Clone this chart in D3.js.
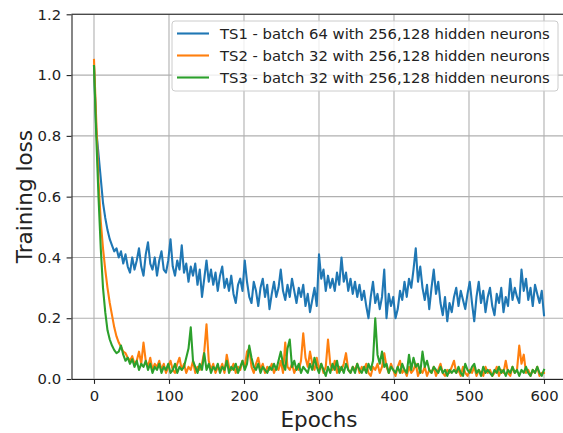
<!DOCTYPE html>
<html>
<head>
<meta charset="utf-8">
<script src="https://cdn.jsdelivr.net/npm/d3@7"></script>
<style>
  body { margin: 0; background: #fff; }
  svg { display: block; font-family: "DejaVu Sans", sans-serif; }
</style>
</head>
<body>
<div id="chart"></div>
<script>
// losses are read every 3 epochs, 0..600
const epochStep = 3;

const ts1 = [
  1.03, 0.82, 0.74, 0.66, 0.58, 0.53, 0.49, 0.46, 0.44, 0.42,
  0.43, 0.40, 0.42, 0.38, 0.41, 0.37, 0.35, 0.40, 0.36, 0.39,
  0.43, 0.37, 0.34, 0.41, 0.45, 0.38, 0.36, 0.40, 0.34, 0.39,
  0.42, 0.36, 0.35, 0.39, 0.46, 0.37, 0.34, 0.39, 0.36, 0.44,
  0.35, 0.38, 0.32, 0.37, 0.34, 0.38, 0.31, 0.36, 0.27, 0.33,
  0.39, 0.32, 0.36, 0.31, 0.35, 0.29, 0.34, 0.37, 0.30, 0.33,
  0.29, 0.34, 0.28, 0.25, 0.31, 0.33, 0.29, 0.39, 0.32, 0.27,
  0.25, 0.32, 0.29, 0.24, 0.30, 0.33, 0.27, 0.31, 0.23, 0.28,
  0.32, 0.27, 0.30, 0.36, 0.29, 0.26, 0.31, 0.27, 0.33, 0.29,
  0.25, 0.30, 0.27, 0.31, 0.24, 0.28, 0.22, 0.26, 0.30, 0.24,
  0.41, 0.33, 0.36, 0.29, 0.34, 0.30, 0.33, 0.29, 0.35, 0.31,
  0.40, 0.32, 0.35, 0.29, 0.33, 0.28, 0.32, 0.27, 0.31, 0.26,
  0.29, 0.24, 0.20, 0.27, 0.32, 0.25, 0.28, 0.23, 0.27, 0.36,
  0.20, 0.28, 0.24, 0.27, 0.20, 0.23, 0.29, 0.26, 0.32, 0.27,
  0.33, 0.30, 0.36, 0.43, 0.32, 0.37, 0.30, 0.26, 0.31, 0.23,
  0.30, 0.36, 0.28, 0.32, 0.25, 0.21, 0.27, 0.19, 0.25, 0.22,
  0.27, 0.30, 0.24, 0.29, 0.26, 0.23, 0.28, 0.32, 0.25, 0.19,
  0.27, 0.32, 0.25, 0.29, 0.22, 0.27, 0.30, 0.24, 0.21, 0.28,
  0.25, 0.30, 0.22, 0.27, 0.24, 0.33, 0.26, 0.30, 0.27, 0.25,
  0.36, 0.29, 0.33, 0.26, 0.30, 0.24, 0.31, 0.28, 0.25, 0.29,
  0.21
];

const ts2 = [
  1.05, 0.85, 0.65, 0.52, 0.43, 0.36, 0.30, 0.25, 0.21, 0.17,
  0.14, 0.12, 0.105, 0.09, 0.085, 0.07, 0.06, 0.075, 0.05, 0.06,
  0.09, 0.05, 0.12, 0.06, 0.04, 0.07, 0.03, 0.05, 0.04, 0.06,
  0.03, 0.05, 0.02, 0.04, 0.06, 0.03, 0.02, 0.05, 0.07, 0.03,
  0.05, 0.02, 0.04, 0.03, 0.06, 0.02, 0.04, 0.03, 0.05, 0.09,
  0.18, 0.06, 0.03, 0.05, 0.02, 0.04, 0.03, 0.05, 0.02, 0.08,
  0.04, 0.03, 0.05, 0.02, 0.04, 0.03, 0.06, 0.04, 0.09, 0.10,
  0.04, 0.02, 0.05, 0.07, 0.03, 0.05, 0.02, 0.04, 0.03, 0.05,
  0.02, 0.04, 0.03, 0.06, 0.02, 0.12, 0.04, 0.03, 0.05, 0.02,
  0.04, 0.03, 0.06, 0.15, 0.07, 0.04, 0.09, 0.05, 0.03, 0.07,
  0.03, 0.05, 0.02, 0.04, 0.13, 0.05, 0.03, 0.06, 0.02, 0.04,
  0.03, 0.05, 0.085, 0.03, 0.02, 0.04, 0.03, 0.05, 0.02, 0.04,
  0.03, 0.05, 0.02, 0.01, 0.04, 0.03, 0.05, 0.02, 0.04, 0.085,
  0.04, 0.02, 0.05, 0.03, 0.01, 0.04, 0.06, 0.02, 0.03, 0.01,
  0.04, 0.02, 0.03, 0.05, 0.01, 0.03, 0.02, 0.04, 0.01, 0.03,
  0.02, 0.04, 0.01, 0.03, 0.05, 0.02, 0.01, 0.03, 0.02, 0.04,
  0.06, 0.02, 0.03, 0.01, 0.04, 0.02, 0.01, 0.03, 0.02, 0.04,
  0.01, 0.03, 0.02, 0.01, 0.04, 0.02, 0.03, 0.01, 0.02, 0.04,
  0.01, 0.03, 0.02, 0.06, 0.02, 0.01, 0.04, 0.02, 0.03, 0.11,
  0.05, 0.08, 0.02, 0.03, 0.01, 0.03, 0.02, 0.04, 0.01, 0.02,
  0.02
];

const ts3 = [
  1.03, 0.80, 0.60, 0.43, 0.30, 0.22, 0.16, 0.13, 0.11, 0.095,
  0.085, 0.09, 0.11, 0.08, 0.06, 0.07, 0.05, 0.065, 0.04, 0.06,
  0.03, 0.05, 0.04, 0.06, 0.03, 0.05, 0.02, 0.04, 0.03, 0.05,
  0.02, 0.04, 0.03, 0.05, 0.02, 0.03, 0.05, 0.02, 0.04, 0.03,
  0.04, 0.07, 0.10, 0.17, 0.06, 0.04, 0.02, 0.05, 0.03, 0.085,
  0.03, 0.05, 0.02, 0.04, 0.03, 0.05, 0.02, 0.04, 0.03, 0.06,
  0.02, 0.04, 0.03, 0.05, 0.02, 0.04, 0.06, 0.03, 0.05, 0.11,
  0.07, 0.04, 0.03, 0.05, 0.02, 0.04, 0.03, 0.02, 0.04, 0.03,
  0.05, 0.03, 0.06, 0.09, 0.05, 0.03, 0.10, 0.13, 0.04, 0.06,
  0.03, 0.05, 0.02, 0.04, 0.03, 0.02, 0.05, 0.03, 0.07, 0.04,
  0.02, 0.05, 0.03, 0.01, 0.04, 0.02, 0.05, 0.03, 0.06, 0.02,
  0.04, 0.02, 0.05, 0.03, 0.02, 0.04, 0.02, 0.05, 0.03, 0.02,
  0.04, 0.02, 0.05, 0.03, 0.06, 0.20, 0.08, 0.05, 0.09, 0.04,
  0.05, 0.02, 0.04, 0.03, 0.02, 0.04, 0.02, 0.05, 0.03, 0.02,
  0.08, 0.03, 0.07, 0.04, 0.05, 0.02, 0.09, 0.04, 0.06, 0.03,
  0.02, 0.04, 0.03, 0.02, 0.04, 0.02, 0.03, 0.01, 0.03, 0.02,
  0.03, 0.02, 0.04, 0.02, 0.01, 0.05, 0.03, 0.02, 0.04, 0.05,
  0.02, 0.03, 0.01, 0.04, 0.02, 0.03, 0.02, 0.01, 0.03, 0.02,
  0.04, 0.02, 0.03, 0.01, 0.03, 0.02, 0.04, 0.02, 0.03, 0.01,
  0.03, 0.02, 0.04, 0.02, 0.01, 0.03, 0.02, 0.04, 0.02, 0.01,
  0.03
];

const seriesNames = [
  "TS1 - batch 64 with 256,128 hidden neurons",
  "TS2 - batch 32 with 256,128 hidden neurons",
  "TS3 - batch 32 with 256,128 hidden neurons"
];
const seriesColors = ["#1f77b4", "#ff7f0e", "#2ca02c"];
const xTicks = [0, 100, 200, 300, 400, 500, 600];
const yTicks = [0, 0.2, 0.4, 0.6, 0.8, 1.0, 1.2];

const W = 563, H = 433;
const plot = {left: 71.5, right: 566.5, top: 14.3, bottom: 379};

const svg = d3.select("#chart").append("svg")
    .attr("width", W)
    .attr("height", H);

const x = d3.scaleLinear().domain([-30, 630]).range([plot.left, plot.right]);
const y = d3.scaleLinear().domain([0, 1.2]).range([plot.bottom, plot.top]);

// grid
svg.append("g").selectAll("line").data(xTicks).join("line")
    .attr("x1", d => x(d)).attr("x2", d => x(d))
    .attr("y1", plot.top).attr("y2", plot.bottom)
    .attr("stroke", "#b0b0b0").attr("stroke-width", 1.1);
svg.append("g").selectAll("line").data(yTicks).join("line")
    .attr("x1", plot.left).attr("x2", plot.right)
    .attr("y1", d => y(d)).attr("y2", d => y(d))
    .attr("stroke", "#b0b0b0").attr("stroke-width", 1.1);

svg.append("clipPath").attr("id", "clip")
  .append("rect")
    .attr("x", plot.left).attr("y", plot.top)
    .attr("width", plot.right - plot.left)
    .attr("height", plot.bottom - plot.top);

const line = d3.line()
    .x((d, i) => x(i * epochStep))
    .y(d => y(d));

const lines = svg.append("g").attr("clip-path", "url(#clip)");
[ts1, ts2, ts3].forEach((s, k) => {
  lines.append("path")
      .datum(s)
      .attr("fill", "none")
      .attr("stroke", seriesColors[k])
      .attr("stroke-width", 2.1)
      .attr("stroke-linejoin", "round")
      .attr("stroke-linecap", "square")
      .attr("d", line);
});

// axes
const xAxis = svg.append("g")
    .attr("transform", "translate(0," + plot.bottom + ")")
    .call(d3.axisBottom(x).tickValues(xTicks).tickSize(4.9).tickPadding(7).tickSizeOuter(0));
const yAxis = svg.append("g")
    .attr("transform", "translate(" + plot.left + ",0)")
    .call(d3.axisLeft(y).tickValues(yTicks).tickFormat(d3.format(".1f")).tickSize(4.9).tickPadding(5.5).tickSizeOuter(0));

[xAxis, yAxis].forEach(a => {
  a.select(".domain").attr("stroke", "#222").attr("stroke-width", 1.1);
  a.selectAll(".tick line").attr("stroke", "#222").attr("stroke-width", 1.1);
  a.selectAll(".tick text")
      .attr("fill", "#222")
      .style("font-family", "DejaVu Sans")
      .style("font-size", "14.8px");
});

// top spine
svg.append("line")
    .attr("x1", plot.left).attr("x2", plot.right)
    .attr("y1", plot.top).attr("y2", plot.top)
    .attr("stroke", "#222").attr("stroke-width", 1.1);

// axis labels
svg.append("text")
    .attr("x", (plot.left + plot.right) / 2)
    .attr("y", 427)
    .attr("text-anchor", "middle")
    .attr("fill", "#222")
    .style("font-size", "21.5px")
    .text("Epochs");
svg.append("text")
    .attr("transform", "translate(32," + (plot.top + plot.bottom) / 2 + ") rotate(-90)")
    .attr("text-anchor", "middle")
    .attr("fill", "#222")
    .style("font-size", "21.5px")
    .text("Training loss");

// legend
const legend = svg.append("g");
legend.append("rect")
    .attr("x", 172).attr("y", 21)
    .attr("width", 386).attr("height", 70)
    .attr("rx", 3)
    .attr("fill", "#fff").attr("fill-opacity", 0.8)
    .attr("stroke", "#cccccc").attr("stroke-width", 1);
seriesNames.forEach((name, k) => {
  const ly = 33.5 + k * 22;
  legend.append("line")
      .attr("x1", 177).attr("x2", 209)
      .attr("y1", ly).attr("y2", ly)
      .attr("stroke", seriesColors[k]).attr("stroke-width", 2.1);
  legend.append("text")
      .attr("x", 220).attr("y", ly)
      .attr("dy", "0.36em")
      .attr("fill", "#222")
      .style("font-size", "14.8px")
      .text(name);
});
</script>
</body>
</html>
